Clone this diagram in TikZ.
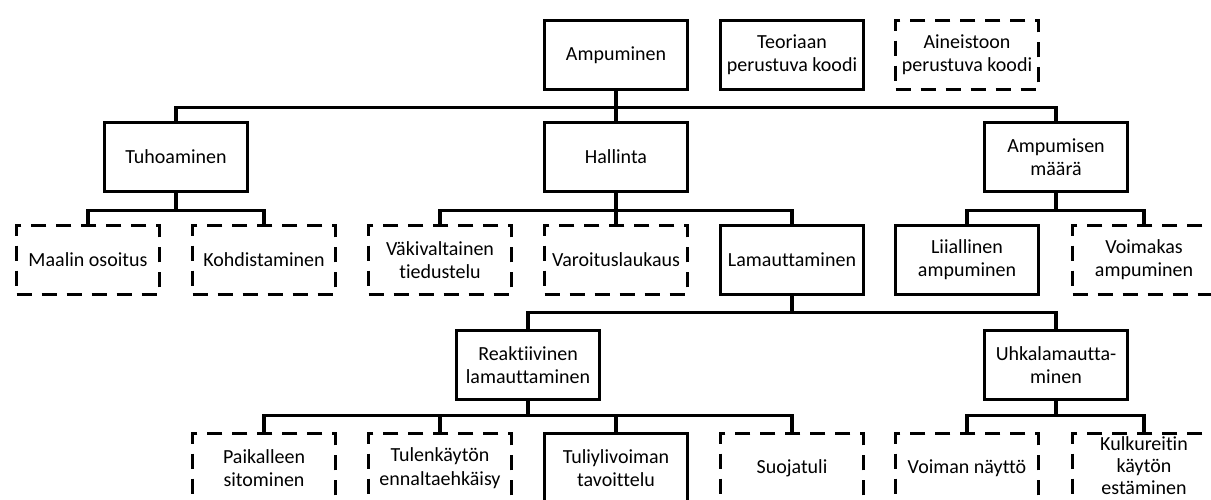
\documentclass[tikz,border=0pt]{standalone}
\usepackage{fontspec}
\setmainfont[Ligatures=NoCommon]{Carlito}
\usepackage{tikz}
\usetikzlibrary{positioning}

\begin{document}
\begin{tikzpicture}[x=0.6pt,y=-0.6pt,
    solidbox/.style={rectangle,draw=black,line width=2pt,minimum width=85.6pt,minimum height=41.6pt,inner sep=2pt,align=center,font=\fontsize{12}{14}\selectfont},
    dashbox/.style={solidbox,dash pattern=on 9pt off 6pt},
    link/.style={draw=black,line width=2pt}]
    \useasboundingbox (0,0) rectangle (1211,500);
    \clip (0,0) rectangle (1211,500);

    % Ylin rivi
    \node[solidbox] (ampuminen) at (616,55) {Ampuminen};
    \node[solidbox] (teoria) at (792,55) {Teoriaan\\perustuva koodi};
    \node[dashbox] (aineisto) at (967,55) {Aineistoon\\perustuva koodi};

    % Toinen rivi
    \node[solidbox] (tuhoaminen) at (176,157) {Tuhoaminen};
    \node[solidbox] (hallinta) at (616,157) {Hallinta};
    \node[solidbox] (maara) at (1056,157) {Ampumisen\\määrä};

    % Kolmas rivi
    \node[dashbox] (maalin) at (88,260) {Maalin osoitus};
    \node[dashbox] (kohdistaminen) at (264,260) {Kohdistaminen};
    \node[dashbox] (vakivaltainen) at (440,260) {Väkivaltainen\\tiedustelu};
    \node[dashbox] (varoitus) at (616,260) {Varoituslaukaus};
    \node[solidbox] (lamauttaminen) at (792,260) {Lamauttaminen};
    \node[solidbox] (liiallinen) at (967,260) {Liiallinen\\ampuminen};
    \node[dashbox] (voimakas) at (1144,260) {Voimakas\\ampuminen};

    % Neljäs rivi
    \node[solidbox] (reaktiivinen) at (528,365) {Reaktiivinen\\lamauttaminen};
    \node[solidbox] (uhka) at (1056,365) {Uhkalamautta-\\minen};

    % Alin rivi
    \node[dashbox] (paikalleen) at (264,468) {Paikalleen\\sitominen};
    \node[dashbox] (tulenkaytto) at (440,468) {Tulenkäytön\\ennaltaehkäisy};
    \node[solidbox] (tuliylivoima) at (616,468) {Tuliylivoiman\\tavoittelu};
    \node[dashbox] (suojatuli) at (792,468) {Suojatuli};
    \node[dashbox] (voiman) at (967,468) {Voiman näyttö};
    \node[dashbox,inner sep=0pt,text depth=3pt,font=\fontsize{12}{13.2}\selectfont] (kulkureitti) at (1144,468) {Kulkureitin\\käytön\\estäminen};

    % Yhteydet
    \draw[link] (ampuminen) -- (hallinta);
    \draw[link] (ampuminen.south) -- ++(0,16) -| (tuhoaminen.north);
    \draw[link] (ampuminen.south) -- ++(0,16) -| (maara.north);

    \draw[link] (tuhoaminen.south) -- ++(0,17) -| (maalin.north);
    \draw[link] (tuhoaminen.south) -- ++(0,17) -| (kohdistaminen.north);

    \draw[link] (hallinta) -- (varoitus);
    \draw[link] (hallinta.south) -- ++(0,17) -| (vakivaltainen.north);
    \draw[link] (hallinta.south) -- ++(0,17) -| (lamauttaminen.north);

    \draw[link] (maara.south) -- ++(0,17) -| (liiallinen.north);
    \draw[link] (maara.south) -- ++(0,17) -| (voimakas.north);

    \draw[link] (lamauttaminen.south) -- ++(0,16) -| (reaktiivinen.north);
    \draw[link] (lamauttaminen.south) -- ++(0,16) -| (uhka.north);

    \draw[link] (reaktiivinen.south) -- ++(0,14) -| (paikalleen.north);
    \draw[link] (reaktiivinen.south) -- ++(0,14) -| (tulenkaytto.north);
    \draw[link] (reaktiivinen.south) -- ++(0,14) -| (tuliylivoima.north);
    \draw[link] (reaktiivinen.south) -- ++(0,14) -| (suojatuli.north);

    \draw[link] (uhka.south) -- ++(0,14) -| (voiman.north);
    \draw[link] (uhka.south) -- ++(0,14) -| (kulkureitti.north);
\end{tikzpicture}
\end{document}
